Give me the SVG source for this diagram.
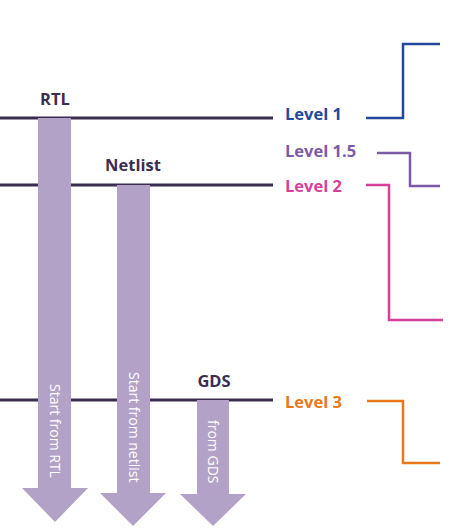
<svg xmlns="http://www.w3.org/2000/svg" width="452" height="530" viewBox="0 0 452 530">
<style>
.lvl{stroke:#3b2d4f;stroke-width:3;fill:none}
.arrow{fill:#b3a2c8}
.stage{font-family:"Open Sans","Noto Sans",sans-serif;font-weight:bold;font-size:16.5px;fill:#3b2d4f;text-anchor:middle}
.inner{font-family:"Open Sans","Noto Sans",sans-serif;font-size:14px;fill:#ffffff}
.lab{font-family:"Open Sans","Noto Sans",sans-serif;font-weight:bold;font-size:16.5px}
.br{fill:none;stroke-width:2.5}
</style>
<rect width="452" height="530" fill="#ffffff"/>
<g id="levels">
<line class="lvl" x1="0" y1="118" x2="273" y2="118"/>
<line class="lvl" x1="0" y1="185" x2="273" y2="185"/>
<line class="lvl" x1="0" y1="400" x2="273" y2="400"/>
</g>
<g id="arrow-rtl">
<polygon class="arrow" points="38,118 71,118 71,488 88,488 55,522 22,488 38,488"/>
<text class="inner" transform="translate(50,384) rotate(90)">Start from RTL</text>
</g>
<g id="arrow-netlist">
<polygon class="arrow" points="117,185 150,185 150,493 166,493 133,526 100,493 117,493"/>
<text class="inner" transform="translate(129,372) rotate(90)">Start from netlist</text>
</g>
<g id="arrow-gds">
<polygon class="arrow" points="197,400 229,400 229,494 246,494 213,526 180,494 197,494"/>
<text class="inner" transform="translate(208,420) rotate(90)">from GDS</text>
</g>
<g id="node-rtl"><text class="stage" x="55" y="105">RTL</text></g>
<g id="node-netlist"><text class="stage" x="133" y="171">Netlist</text></g>
<g id="node-gds"><text class="stage" x="214" y="387">GDS</text></g>
<g id="label-l1"><text class="lab" x="285" y="120" fill="#24499a">Level 1</text></g>
<g id="label-l15"><text class="lab" x="285" y="157" fill="#7b5aa6">Level 1.5</text></g>
<g id="label-l2"><text class="lab" x="285" y="192" fill="#d63f9a">Level 2</text></g>
<g id="label-l3"><text class="lab" x="285" y="408" fill="#e8781a">Level 3</text></g>
<g id="connectors">
<polyline class="br" stroke="#24499a" points="366,118 403,118 403,44 440,44"/>
<polyline class="br" stroke="#7b5aa6" points="377,153 410,153 410,186 440,186"/>
<polyline class="br" stroke="#d63f9a" points="366,185 389,185 389,320 443,320"/>
<polyline class="br" stroke="#e8781a" points="367,401 403,401 403,463 440,463"/>
</g>
</svg>
